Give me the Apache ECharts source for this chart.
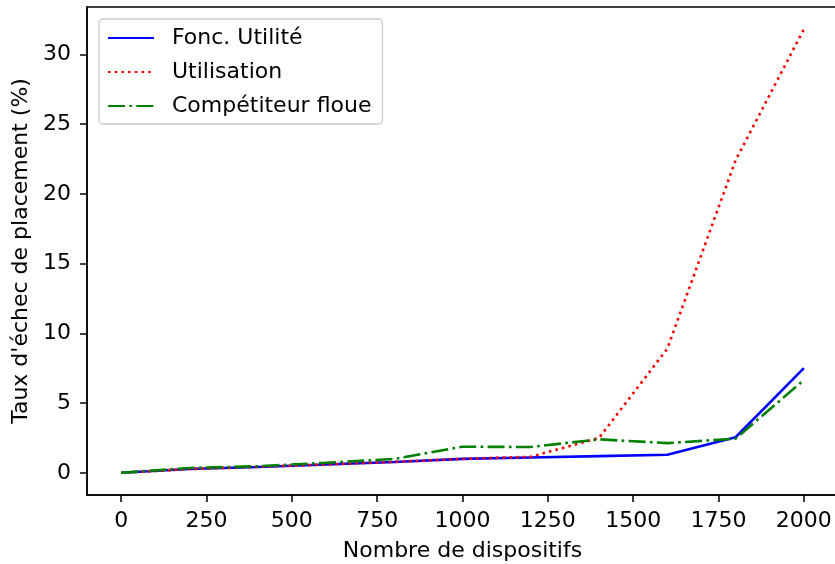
<!DOCTYPE html>
<html>
<head>
<meta charset="utf-8">
<script src="https://cdn.jsdelivr.net/npm/echarts@6/dist/echarts.min.js"></script>
<style>html,body{margin:0;padding:0;background:#fff}#c{width:835px;height:564px}</style>
</head>
<body>
<div id="c"></div>
<script>
const devices = [0, 200, 400, 600, 800, 1000, 1200, 1400, 1600, 1800, 2000];
const foncUtilite = [0, 0.27, 0.42, 0.6, 0.78, 1.0, 1.1, 1.2, 1.3, 2.55, 7.5];
const utilisation = [0, 0.27, 0.42, 0.6, 0.78, 1.0, 1.15, 2.5, 8.9, 22.4, 31.8];
const competiteurFloue = [0, 0.35, 0.47, 0.72, 1.0, 1.87, 1.85, 2.4, 2.13, 2.45, 6.65];
const xTicks = [0, 250, 500, 750, 1000, 1250, 1500, 1750, 2000];
const yTicks = [0, 5, 10, 15, 20, 25, 30];
const seriesNames = ['Fonc. Utilité', 'Utilisation', 'Compétiteur floue'];

const font = 'DejaVu Sans';
const fs = 22;
const pair = arr => devices.map((d, i) => [d, arr[i]]);

const chart = echarts.init(document.getElementById('c'), null, {renderer: 'canvas'});
chart.setOption({
  animation: false,
  backgroundColor: '#ffffff',
  textStyle: {fontFamily: font},
  grid: {left: 87, right: -3, top: 7, bottom: 69, show: true, borderColor: '#000', borderWidth: 1.5,
         containLabel: false, outerBoundsMode: 'none'},
  legend: {
    orient: 'vertical', left: 99, top: 19,
    padding: [8, 11, 7, 8],
    itemWidth: 46, itemHeight: 14, itemGap: 12,
    backgroundColor: 'rgba(255,255,255,0.8)',
    borderColor: '#cccccc', borderWidth: 1.3, borderRadius: 4,
    itemStyle: {opacity: 0},
    textStyle: {fontFamily: font, fontSize: fs, color: '#000', lineHeight: 22, padding: [0, 0, 0, 13]},
    data: seriesNames
  },
  xAxis: {
    type: 'value', min: -100, max: 2100,
    name: 'Nombre de dispositifs', nameLocation: 'middle', nameGap: 45,
    nameTextStyle: {fontFamily: font, fontSize: fs, color: '#000'},
    axisLine: {show: true, onZero: false, lineStyle: {color: '#000', width: 1.5}},
    axisTick: {show: true, length: 7, lineStyle: {color: '#000', width: 1.5}, customValues: xTicks},
    axisLabel: {fontFamily: font, fontSize: fs, color: '#000', margin: 15, customValues: xTicks, formatter: v => String(v)},
    splitLine: {show: false}
  },
  yAxis: {
    type: 'value', min: -1.59, max: 33.39,
    name: "Taux d'échec de placement (%)", nameLocation: 'middle', nameGap: 53,
    nameTextStyle: {fontFamily: font, fontSize: fs, color: '#000'},
    axisLine: {show: true, onZero: false, lineStyle: {color: '#000', width: 1.5}},
    axisTick: {show: true, length: 7, lineStyle: {color: '#000', width: 1.5}, customValues: yTicks},
    axisLabel: {fontFamily: font, fontSize: fs, color: '#000', margin: 16, customValues: yTicks, formatter: v => String(v)},
    splitLine: {show: false}
  },
  series: [
    {name: seriesNames[0], type: 'line', data: pair(foncUtilite), symbol: 'none',
     lineStyle: {color: '#0000ff', width: 2.6, type: 'solid'}, itemStyle: {color: '#0000ff'}},
    {name: seriesNames[1], type: 'line', data: pair(utilisation), symbol: 'none',
     lineStyle: {color: '#ff0000', width: 2.6, type: [2.6, 4.1], cap: 'butt'}, itemStyle: {color: '#ff0000'}},
    {name: seriesNames[2], type: 'line', data: pair(competiteurFloue), symbol: 'none',
     lineStyle: {color: '#008000', width: 2.6, type: [17, 4.3, 2.7, 4.3], cap: 'butt'}, itemStyle: {color: '#008000'}}
  ]
});
</script>
</body>
</html>
